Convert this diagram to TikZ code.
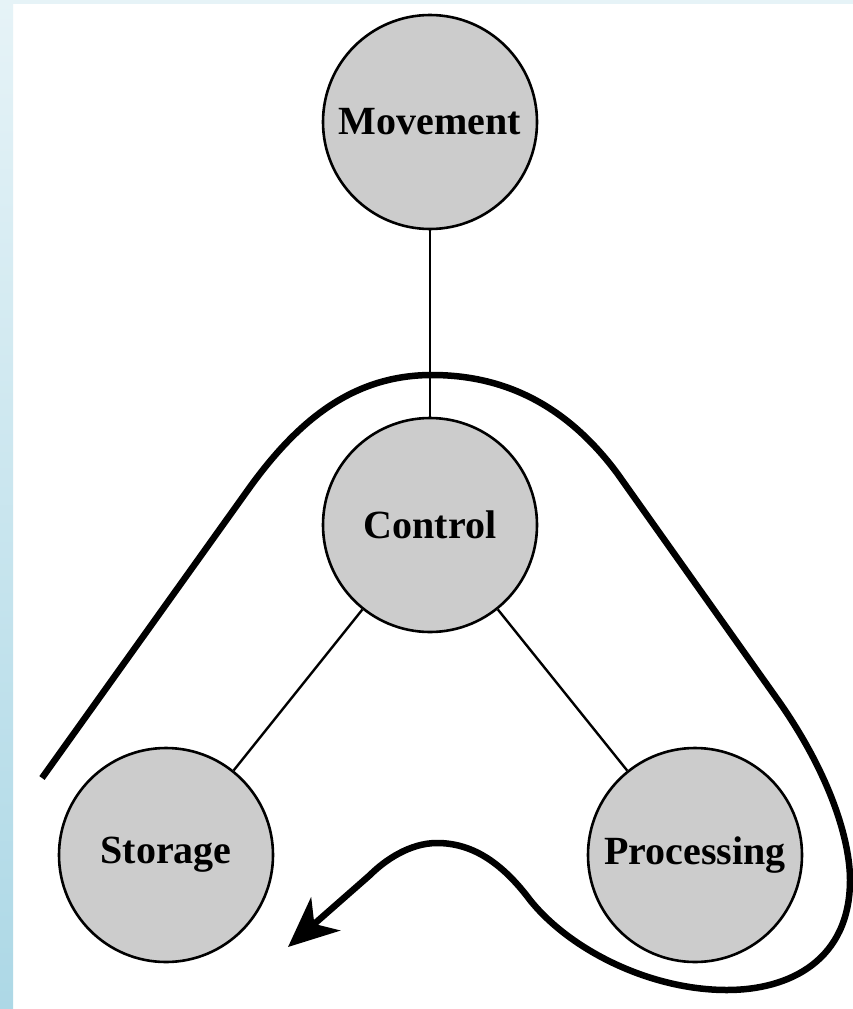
\documentclass[tikz,border=0pt]{standalone}
\usepackage{fontspec}
\setmainfont{Liberation Serif}
\usetikzlibrary{arrows.meta}
\definecolor{stripTop}{HTML}{E6F3F7}
\definecolor{stripBot}{HTML}{ADD8E6}
\definecolor{nodefill}{HTML}{CCCCCC}
\tikzset{
  unit/.style={circle, draw=black, line width=2.6pt, fill=nodefill, minimum size=214pt, inner sep=0pt,
    font=\fontsize{40}{42}\selectfont\bfseries},
  link/.style={line width=2.4pt},
  flow/.style={line width=6.5pt, -{Stealth[length=50pt, width=44pt, inset=15pt]}}
}
\begin{document}
\begin{tikzpicture}[x=1pt,y=-1pt]
  \useasboundingbox (0,0) rectangle (853,1009);
  \fill[white] (0,0) rectangle (853,1009);
  \shade[top color=stripTop, bottom color=stripBot] (0,0) rectangle (13,1009);
  \fill[stripTop] (13,0) rectangle (853,4);

  \node[unit] (mov) at (430,122) {Movement};
  \node[unit] (ctl) at (430,525) {Control};
  \node[unit] (sto) at (166,855) {Storage};
  \node[unit] (pro) at (695,855) {Processing};

  \draw[link] (mov) -- (ctl);
  \draw[link] (ctl) -- (sto);
  \draw[link] (ctl) -- (pro);

  \coordinate (fstart) at (42,778);
  \coordinate (ftip) at (288,947);
  \draw[flow] (fstart) -- (250,487)
    .. controls (300,418) and (355,375) .. (432,375)
    .. controls (510,375) and (570,410) .. (617,473)
    -- (780,703)
    .. controls (830,775) and (850,840) .. (850,880)
    .. controls (850,960) and (790,990) .. (727,990)
    .. controls (650,990) and (570,950) .. (530,900)
    .. controls (500,860) and (470,843) .. (437,843)
    .. controls (410,843) and (385,860) .. (370,875)
    -- (ftip);
\end{tikzpicture}
\end{document}
